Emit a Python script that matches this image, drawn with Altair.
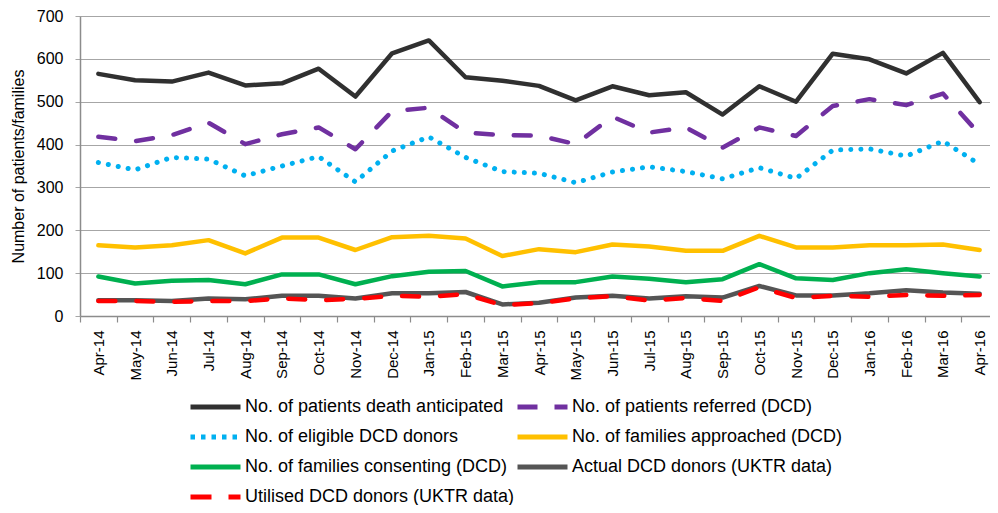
import altair as alt
import pandas as pd

months = ["Apr-14", "May-14", "Jun-14", "Jul-14", "Aug-14", "Sep-14", "Oct-14", "Nov-14",
          "Dec-14", "Jan-15", "Feb-15", "Mar-15", "Apr-15", "May-15", "Jun-15", "Jul-15",
          "Aug-15", "Sep-15", "Oct-15", "Nov-15", "Dec-15", "Jan-16", "Feb-16", "Mar-16", "Apr-16"]

death = [565, 550, 547, 568, 538, 543, 577, 512, 613, 643, 557, 549, 537, 503, 536, 515, 522, 470, 536, 500, 612, 599, 566, 614, 499]
referred = [418, 408, 422, 451, 401, 424, 440, 389, 478, 486, 428, 422, 421, 401, 465, 428, 440, 393, 440, 420, 490, 506, 492, 519, 424]
eligible = [358, 341, 370, 366, 327, 350, 372, 313, 385, 418, 370, 337, 333, 311, 336, 348, 337, 320, 346, 321, 387, 390, 373, 408, 354]
approached = [165, 160, 165, 177, 146, 183, 183, 154, 184, 187, 181, 140, 156, 149, 167, 162, 152, 152, 187, 160, 160, 165, 165, 167, 154]
consenting = [92, 76, 82, 84, 74, 97, 97, 74, 93, 103, 105, 69, 79, 79, 92, 87, 79, 86, 121, 88, 84, 100, 109, 100, 92]
actual = [37, 37, 35, 41, 39, 47, 47, 41, 53, 53, 56, 27, 31, 43, 47, 41, 46, 43, 70, 48, 48, 53, 60, 55, 52]
utilised = [35, 35, 33, 35, 35, 41, 37, 40, 47, 45, 51, 25, 30, 41, 46, 36, 42, 35, 67, 42, 47, 45, 49, 47, 49]

names = ["No. of patients death anticipated", "No. of patients referred (DCD)",
         "No. of eligible DCD donors", "No. of families approached (DCD)",
         "No. of families consenting (DCD)", "Actual DCD donors (UKTR data)",
         "Utilised DCD donors (UKTR data)"]
series_values = [death, referred, eligible, approached, consenting, actual, utilised]
colors = ["#303030", "#7030a0", "#00b0f0", "#ffc000", "#00b050", "#555555", "#ff0000"]
plot_dash = [None, [17, 21], [0.1, 10], None, None, None, [17, 21]]
plot_width = [4.5, 4.5, 5, 4.5, 4.5, 4.5, 4.5]
legend_dash = [[1, 0], [20, 17], [4.5, 6], [1, 0], [1, 0], [1, 0], [21, 17]]

# legend fills column by column: order entries so that rows read as in the reference
legend_order = [0, 2, 4, 6, 1, 3, 5]
leg_names = [names[i] for i in legend_order]
leg_colors = [colors[i] for i in legend_order]
leg_dash = [legend_dash[i] for i in legend_order]

rows = []
for n, vals in zip(names, series_values):
    for m, v in zip(months, vals):
        rows.append({"month": m, "series": n, "value": v})
df = pd.DataFrame(rows)

FONT = "Liberation Sans"
GRID = "#a6a6a6"

legend = alt.Legend(title=None, orient="none", legendX=108, legendY=382, columns=2,
                    symbolType="stroke", symbolSize=2500, symbolStrokeWidth=5,
                    symbolOpacity=1, labelFont=FONT, labelFontSize=18, labelColor="#000000",
                    labelLimit=500, labelOffset=2, columnPadding=-25, rowPadding=12,
                    clipHeight=18, padding=0)

x = alt.X("month:N", sort=months,
          scale=alt.Scale(type="band", domain=months, range=[0, 918], paddingInner=0, paddingOuter=0),
          bandPosition=0.5,
          axis=alt.Axis(title=None, labelAngle=-90, labelFont=FONT, labelFontSize=15,
                        labelColor="#000000", labelPadding=8, tickBand="extent", tickSize=6,
                        tickColor="#8c8c8c", domainColor="#8c8c8c", domainWidth=1.5,
                        tickWidth=1.2, grid=False))
y = alt.Y("value:Q", scale=alt.Scale(domain=[0, 700], nice=False),
          axis=alt.Axis(values=list(range(0, 701, 100)), title="Number of patients/families",
                        titleFont=FONT, titleFontSize=16, titleFontWeight="normal",
                        titleColor="#000000", titlePadding=10,
                        labelFont=FONT, labelFontSize=16, labelColor="#000000", labelPadding=12,
                        grid=True, gridColor=GRID, gridWidth=1.2, tickSize=5, tickColor=GRID,
                        domainColor="#8c8c8c", domainWidth=1.5))
color = alt.Color("series:N", scale=alt.Scale(domain=leg_names, range=leg_colors), legend=legend)

base = alt.Chart(df).encode(x=x, y=y, color=color)

layers = []
for n, d, w in zip(names, plot_dash, plot_width):
    kw = dict(strokeWidth=w, strokeCap="round", strokeJoin="round")
    if d is not None:
        kw["strokeDash"] = d
    layers.append(base.transform_filter(alt.datum.series == n).mark_line(**kw))

legend_layer = base.transform_filter("false").mark_line().encode(
    strokeDash=alt.StrokeDash("series:N", scale=alt.Scale(domain=leg_names, range=leg_dash),
                              legend=legend))

chart = alt.layer(*layers, legend_layer).properties(
    width=910, height=300,
    autosize=alt.AutoSizeParams(type="none"),
    padding={"left": 72, "top": 8, "right": 0, "bottom": 189},
).configure_view(stroke=None).configure(background="#ffffff")

chart.save("out.html", embed_options={"renderer": "svg", "actions": False})
